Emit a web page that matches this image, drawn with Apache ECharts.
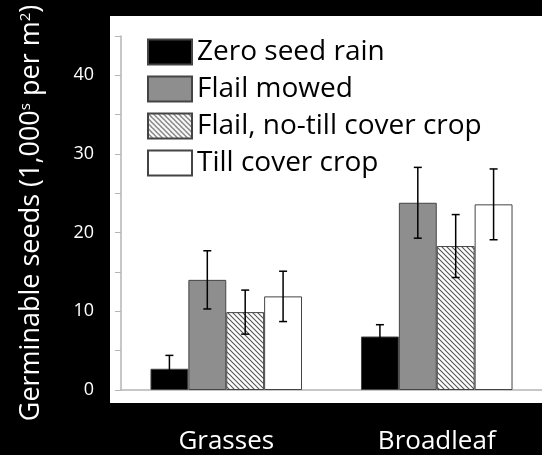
<!DOCTYPE html>
<html>
<head>
<meta charset="utf-8">
<script src="https://cdn.jsdelivr.net/npm/echarts@6/dist/echarts.min.js"></script>
<style>
  html, body { margin: 0; padding: 0; background: #000; }
  #main { width: 542px; height: 455px; }
</style>
</head>
<body>
<div id="main"></div>
<script>
// data
var categories = ['Grasses', 'Broadleaf'];
var seriesNames = ['Zero seed rain', 'Flail mowed', 'Flail, no-till cover crop', 'Till cover crop'];
var zeroSeed = [2.7, 6.8];
var flailMowed = [14.0, 23.8];
var flailNoTill = [9.9, 18.3];
var tillCover = [11.9, 23.6];
var zeroSeedErr = [1.7, 1.5];
var flailMowedErr = [3.7, 4.5];
var flailNoTillErr = [2.8, 4.0];
var tillCoverErr = [3.2, 4.5];

var means = [zeroSeed, flailMowed, flailNoTill, tillCover];
var errs = [zeroSeedErr, flailMowedErr, flailNoTillErr, tillCoverErr];

// diagonal hatch
function hatch() {
    var c = document.createElement('canvas');
    c.width = 5; c.height = 5;
    var g = c.getContext('2d');
    g.fillStyle = '#fff';
    g.fillRect(0, 0, 5, 5);
    g.strokeStyle = '#555';
    g.lineWidth = 1.1;
    g.beginPath();
    g.moveTo(-1, -1); g.lineTo(6, 6);
    g.moveTo(-1, 4); g.lineTo(1, 6);
    g.moveTo(4, -1); g.lineTo(6, 1);
    g.stroke();
    return {image: c, repeat: 'repeat'};
}

var fills = ['#000', '#8e8e8e', hatch(), '#fff'];

var errData = [];
for (var s = 0; s < 4; s++) {
    for (var k = 0; k < categories.length; k++) {
        errData.push([k, means[s][k] - errs[s][k], means[s][k] + errs[s][k], s]);
    }
}

var font = '"Open Sans", Lato, sans-serif';
var gapRatio = 0.28;

var series = seriesNames.map(function (name, i) {
    return {
        name: name,
        type: 'bar',
        data: means[i],
        barGap: 0,
        barCategoryGap: '28%',
        itemStyle: {color: fills[i], borderColor: '#444', borderWidth: 1}
    };
});

series.push({
    type: 'custom',
    name: 'err',
    data: errData,
    z: 5,
    renderItem: function (params, api) {
        var cat = api.value(0);
        var idx = api.value(3);
        var bw = api.size([1, 0])[0] * (1 - gapRatio) / 4;
        var lo = api.coord([cat, api.value(1)]);
        var hi = api.coord([cat, api.value(2)]);
        var x = lo[0] + (idx - 1.5) * bw;
        var cap = 4;
        var st = {stroke: '#000', lineWidth: 1.5};
        return {
            type: 'group',
            children: [
                {type: 'line', shape: {x1: x, y1: lo[1], x2: x, y2: hi[1]}, style: st},
                {type: 'line', shape: {x1: x - cap, y1: lo[1], x2: x + cap, y2: lo[1]}, style: st},
                {type: 'line', shape: {x1: x - cap, y1: hi[1], x2: x + cap, y2: hi[1]}, style: st}
            ]
        };
    }
});

var chart = echarts.init(document.getElementById('main'));
chart.setOption({
    backgroundColor: '#000',
    animation: false,
    textStyle: {fontFamily: font},
    graphic: [{
        type: 'rect', z: -10,
        shape: {x: 110, y: 16, width: 440, height: 387},
        style: {fill: '#fff'}
    }],
    legend: {
        data: seriesNames,
        orient: 'vertical',
        left: 142,
        top: 33,
        icon: 'rect',
        itemWidth: 44,
        itemHeight: 25,
        itemGap: 9,
        textStyle: {color: '#000', fontSize: 28, lineHeight: 25, fontFamily: font}
    },
    grid: {left: 121, right: -11, top: 36, bottom: 63},
    xAxis: {
        type: 'category',
        data: categories,
        axisLine: {lineStyle: {color: '#b5b5b5', width: 1.5}},
        axisTick: {length: 5, lineStyle: {color: '#b5b5b5'}},
        axisLabel: {color: '#fff', fontSize: 26, margin: 39, fontFamily: font}
    },
    yAxis: {
        type: 'value',
        min: 0,
        max: 45,
        interval: 5,
        splitLine: {show: false},
        axisLine: {show: true, lineStyle: {color: '#b5b5b5', width: 1.5}},
        axisTick: {show: true, length: 6, lineStyle: {color: '#b5b5b5'}},
        axisLabel: {
            color: '#fff', fontSize: 18, margin: 27, fontFamily: font,
            formatter: function (v) { return v % 10 === 0 && v < 45 ? v : ''; }
        },
        name: '{m|Germinable seeds (1,000}{sup|s}{m| per m}{sup|2}{m|)}',
        nameLocation: 'middle',
        nameGap: 76,
        nameRotate: 90,
        nameTextStyle: {
            rich: {
                m: {color: '#fff', fontSize: 27, fontFamily: font},
                sup: {color: '#fff', fontSize: 15, fontFamily: font, verticalAlign: 'top', padding: [0, 0, 12, 0]}
            }
        }
    },
    series: series
});
</script>
</body>
</html>
